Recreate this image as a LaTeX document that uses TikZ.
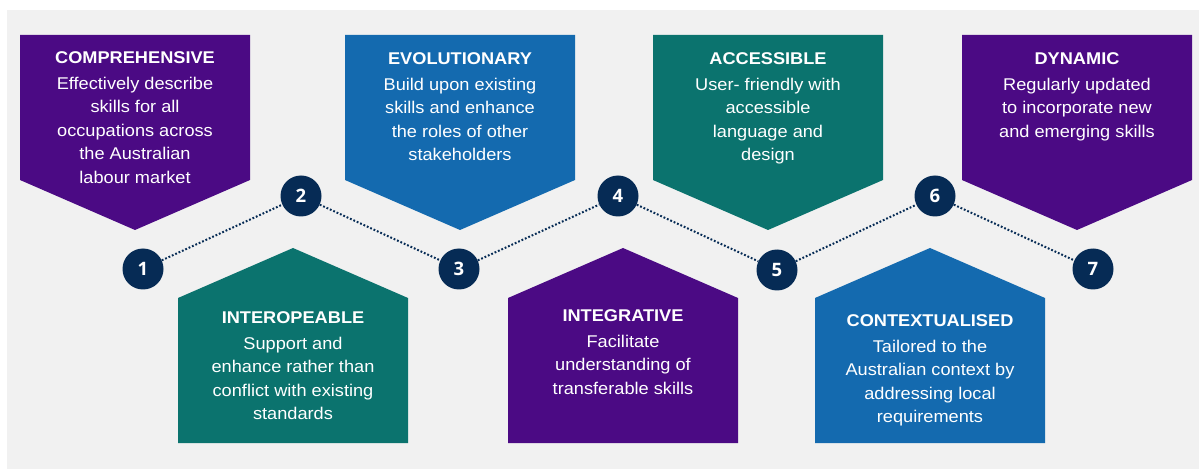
\documentclass[tikz,border=0pt]{standalone}
\usepackage{fontspec}
\setmainfont[FakeStretch=1.07]{Liberation Sans}
\newfontfamily\numfont{Open Sans}
\definecolor{cpurple}{HTML}{4B0A84}
\definecolor{cblue}{HTML}{146AAF}
\definecolor{cteal}{HTML}{0B736E}
\definecolor{cnavy}{HTML}{062B55}
\definecolor{cbg}{HTML}{F1F1F1}
\tikzset{
  boxtext/.style={text=white, align=center, inner sep=0pt, anchor=north,
    font=\fontsize{17}{23.5}\selectfont},
  numcirc/.style={circle, fill=cnavy, minimum size=41pt, inner sep=0pt,
    text=white, font=\numfont\bfseries\fontsize{18.5}{20}\selectfont},
  dotline/.style={cnavy, line width=2pt, dash pattern=on 1.8pt off 1.9pt}
}
\newcommand{\ttl}[1]{\textbf{#1}\\[2.5pt]}
\begin{document}
\begin{tikzpicture}[x=1pt,y=-1pt]
\useasboundingbox (0,0) rectangle (1199,470);
\fill[white] (0,0) rectangle (1199,470);
\fill[cbg] (7,10) rectangle (1199,469);
% top pentagons (pointing down)
\fill[cpurple] (20,35) -- (250,35) -- (250,180) -- (135,230) -- (20,180) -- cycle;
\fill[cblue] (345,35) -- (575,35) -- (575,180) -- (460,230) -- (345,180) -- cycle;
\fill[cteal] (653,35) -- (883,35) -- (883,180) -- (768,230) -- (653,180) -- cycle;
\fill[cpurple] (962,35) -- (1192,35) -- (1192,180) -- (1077,230) -- (962,180) -- cycle;
% bottom pentagons (pointing up)
\fill[cteal] (178,443) -- (178,298) -- (293,248) -- (408,298) -- (408,443) -- cycle;
\fill[cpurple] (508,443) -- (508,298) -- (623,248) -- (738,298) -- (738,443) -- cycle;
\fill[cblue] (815,443) -- (815,298) -- (930,248) -- (1045,298) -- (1045,443) -- cycle;
% texts
\node[boxtext] (t1) at (135,51) {\ttl{COMPREHENSIVE}Effectively describe\\skills for all\\occupations across\\the Australian\\labour market};
\node[boxtext] (t3) at (460,52) {\ttl{EVOLUTIONARY}Build upon existing\\skills and enhance\\the roles of other\\stakeholders};
\node[boxtext] (t5) at (768,52) {\ttl{ACCESSIBLE}User- friendly with\\accessible\\language and\\design};
\node[boxtext] (t7) at (1077,52) {\ttl{DYNAMIC}Regularly updated\\to incorporate new\\and emerging skills};
\node[boxtext] (t2) at (293,311) {\ttl{INTEROPEABLE}Support and\\enhance rather than\\conflict with existing\\standards};
\node[boxtext] (t4) at (623,309) {\ttl{INTEGRATIVE}Facilitate\\understanding of\\transferable skills};
\node[boxtext] (t6) at (930,314) {\ttl{CONTEXTUALISED}Tailored to the\\Australian context by\\addressing local\\requirements};
% circles
\node[numcirc] (c1) at (143,269) {1};
\node[numcirc] (c2) at (301,196) {2};
\node[numcirc] (c3) at (459,269) {3};
\node[numcirc] (c4) at (618,196) {4};
\node[numcirc] (c5) at (777,270) {5};
\node[numcirc] (c6) at (935,196) {6};
\node[numcirc] (c7) at (1093,269) {7};
\draw[dotline] (c1) -- (c2);
\draw[dotline] (c2) -- (c3);
\draw[dotline] (c3) -- (c4);
\draw[dotline] (c4) -- (c5);
\draw[dotline] (c5) -- (c6);
\draw[dotline] (c6) -- (c7);
\end{tikzpicture}
\end{document}
